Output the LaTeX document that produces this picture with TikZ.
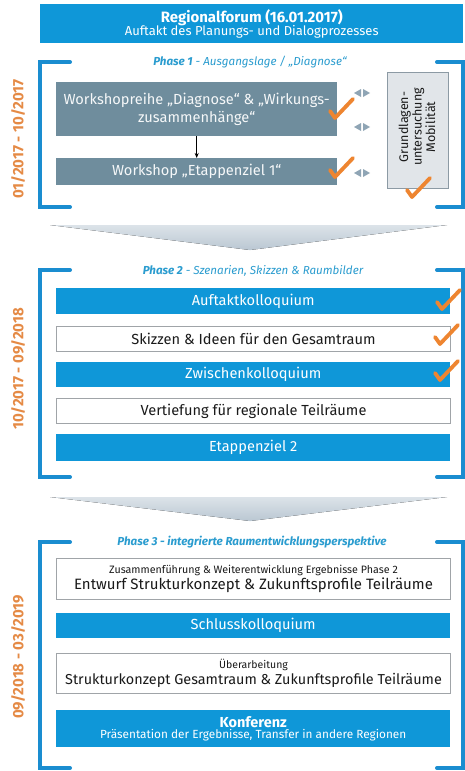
\documentclass[tikz,border=0pt]{standalone}
\usepackage{fontspec}
\setmainfont{Fira Sans}
\usetikzlibrary{arrows.meta}
\definecolor{barblue}{HTML}{0F97D8}
\definecolor{brblue}{HTML}{1A8DD0}
\definecolor{wsgrey}{HTML}{6F8D9D}
\definecolor{lightbox}{HTML}{E1E5E9}
\definecolor{lightborder}{HTML}{8C9AA4}
\definecolor{chkorange}{HTML}{EE8530}
\definecolor{dateorange}{HTML}{E58A45}
\definecolor{titleblue}{HTML}{2A9CCF}
\definecolor{arrgrey}{HTML}{8FA5B5}
\definecolor{chevtop}{HTML}{DCE3E9}
\definecolor{chevbot}{HTML}{BAC7D2}
\definecolor{whiteborder}{HTML}{A0A4A8}
\definecolor{darktext}{HTML}{1A1A1A}
\tikzset{
  bluebar/.style={fill=barblue, text=white, inner sep=0pt, anchor=north west, align=center},
  whitebox/.style={fill=white, draw=whiteborder, line width=1pt, text=darktext, inner sep=0pt, anchor=north west, align=center},
  wsbox/.style={fill=wsgrey, text=white!94!wsgrey, inner sep=0pt, anchor=north west, align=center},
  bracketline/.style={draw=brblue, line width=4pt, line cap=round, line join=miter},
  datelabel/.style={text=dateorange, rotate=90, font=\bfseries\fontsize{15}{18}\selectfont},
  phasetitle/.style={text=titleblue, font=\itshape\fontsize{11.6}{13}\selectfont, fill=white, inner xsep=3pt, inner ysep=0pt},
  chevron/.style={top color=chevtop, bottom color=chevbot},
  chk/.pic={\draw[chkorange, line width=3.8pt, line cap=round, line join=round] (-5,-7) -- (0,0) -- (18,-19);},
  lrarrow/.pic={\fill[arrgrey] (-8,0) -- (-1,-4) -- (-1,4) -- cycle; \fill[arrgrey] (1,-4) -- (8,0) -- (1,4) -- cycle;},
  big/.style={font=\fontsize{14.6}{17.5}\selectfont}
}
\begin{document}
\begin{tikzpicture}[x=1pt,y=-1pt]
\useasboundingbox (0,0) rectangle (465,771);
\fill[white] (0,0) rectangle (465,771);

% top bar
\node[bluebar, minimum width=423pt, minimum height=39pt] (forum) at (40,4)
  {{\bfseries\fontsize{15}{17}\selectfont Regionalforum (16.01.2017)}\\[-1.5pt]{\fontsize{13}{14}\selectfont Auftakt des Planungs- und Dialogprozesses}};

% ---------- Phase 1 ----------
\draw[bracketline] (70,62) -- (40,62) -- (40,207) -- (70,207);
\draw[bracketline] (437,62) -- (463,62) -- (463,207) -- (437,207);
\node[phasetitle] (p1title) at (250,62) {\textbf{Phase 1} - Ausgangslage / „Diagnose“};
\node[datelabel] (d1) at (18,139) {01/2017 - 10/2017};

\node[wsbox, big, minimum width=281pt, minimum height=54pt] (ws1) at (56,82)
  {Workshopreihe „Diagnose“ \& „Wirkungs-\\zusammenhänge“};
\node[wsbox, big, minimum width=281pt, minimum height=27pt] (ws2) at (56,158)
  {Workshop „Etappenziel 1“};
\draw[-{Stealth[length=5pt,width=4pt]}, line width=0.8pt] (ws1.south) -- (ws2.north);

\node[fill=lightbox, draw=lightborder, line width=1pt, anchor=north west, minimum width=61pt, minimum height=116pt, inner sep=0pt] (grund) at (387,72) {};
\node[rotate=90, align=center, text=darktext, font=\fontsize{12.5}{13.5}\selectfont] (grundtxt) at (417,127) {Grundlagen-\\untersuchung\\Mobilität};

\pic at (362,93) {lrarrow};
\pic at (362,127) {lrarrow};
\pic at (362,173) {lrarrow};

\pic at (335,118) {chk};
\pic at (335,177) {chk};
\pic at (412,197) {chk};

% chevron 1
\fill[chevron] (50,225) -- (447,225) -- (250,250) -- cycle;

% ---------- Phase 2 ----------
\draw[bracketline] (70,270) -- (40,270) -- (40,477) -- (70,477);
\draw[bracketline] (437,270) -- (463,270) -- (463,477) -- (437,477);
\node[phasetitle] (p2title) at (253,271) {\textbf{Phase 2} - Szenarien, Skizzen \& Raumbilder};
\node[datelabel] (d2) at (18,369) {10/2017 - 09/2018};

\node[bluebar, big, minimum width=394pt, minimum height=26pt] (auf) at (56,288) {Auftaktkolloquium};
\node[whitebox, big, minimum width=394pt, minimum height=25pt] (ski) at (56,326) {Skizzen \& Ideen für den Gesamtraum};
\node[bluebar, big, minimum width=394pt, minimum height=25pt] (zwi) at (56,362) {Zwischenkolloquium};
\node[whitebox, big, minimum width=394pt, minimum height=25pt] (ver) at (56,398) {Vertiefung für regionale Teilräume};
\node[bluebar, big, minimum width=394pt, minimum height=27pt] (eta) at (56,434) {Etappenziel 2};

\pic at (442,309) {chk};
\pic at (440,344) {chk};
\pic at (440,380) {chk};

% chevron 2
\fill[chevron] (50,497) -- (447,497) -- (250,521) -- cycle;

% ---------- Phase 3 ----------
\draw[bracketline] (70,542) -- (40,542) -- (40,768) -- (70,768);
\draw[bracketline] (437,542) -- (463,542) -- (463,768) -- (437,768);
\node[phasetitle, font=\bfseries\itshape\fontsize{11.6}{13}\selectfont] (p3title) at (252,542) {Phase 3 - integrierte Raumentwicklungsperspektive};
\node[datelabel] (d3) at (18,657) {09/2018 - 03/2019};

\node[whitebox, minimum width=394pt, minimum height=41pt] (ent) at (56,558)
  {{\fontsize{10.7}{12}\selectfont Zusammenführung \& Weiterentwicklung Ergebnisse Phase 2}\\[1pt]{\fontsize{15}{17}\selectfont Entwurf Strukturkonzept \& Zukunftsprofile Teilräume}};
\node[bluebar, big, minimum width=394pt, minimum height=25pt] (sch) at (56,613) {Schlusskolloquium};
\node[whitebox, minimum width=394pt, minimum height=40pt] (ueb) at (56,653)
  {{\fontsize{10.5}{12}\selectfont Überarbeitung}\\[1pt]{\fontsize{14.4}{17}\selectfont Strukturkonzept Gesamtraum \& Zukunftsprofile Teilräume}};
\node[bluebar, minimum width=394pt, minimum height=37pt] (kon) at (56,710)
  {{\bfseries\fontsize{14.5}{17}\selectfont Konferenz}\\[-1pt]{\fontsize{11.8}{13}\selectfont Präsentation der Ergebnisse, Transfer in andere Regionen}};
\end{tikzpicture}
\end{document}
